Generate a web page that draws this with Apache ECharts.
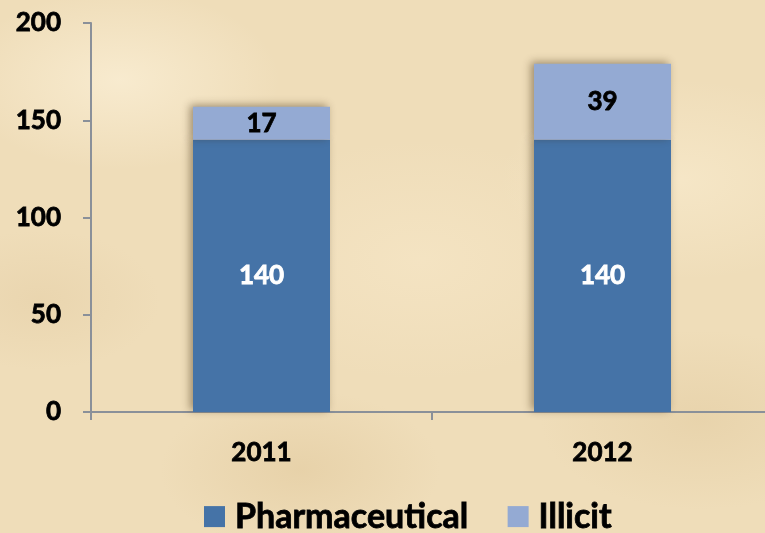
<!DOCTYPE html>
<html lang="en">

<head>
    <meta charset="UTF-8">
    <title>Pharmaceutical vs Illicit</title>
    <script src="https://cdn.jsdelivr.net/npm/echarts@6.0.0/dist/echarts.min.js"></script>
    <style>
        html, body { margin: 0; padding: 0; }
        body {
            width: 765px; height: 533px; overflow: hidden;
            background-color: #efddb9;
            background-image:
                radial-gradient(ellipse 160px 90px at 120px 80px, rgba(250,238,212,0.8), rgba(250,238,212,0)),
                radial-gradient(ellipse 200px 120px at 420px 260px, rgba(246,230,198,0.7), rgba(246,230,198,0)),
                radial-gradient(ellipse 180px 100px at 680px 180px, rgba(248,234,204,0.7), rgba(248,234,204,0)),
                radial-gradient(ellipse 140px 80px at 300px 470px, rgba(222,196,150,0.45), rgba(222,196,150,0)),
                radial-gradient(ellipse 160px 90px at 700px 420px, rgba(224,200,156,0.45), rgba(224,200,156,0)),
                radial-gradient(ellipse 120px 70px at 40px 300px, rgba(226,202,160,0.4), rgba(226,202,160,0));
        }
    </style>
</head>

<body>
    <!-- plot runs a little past the right edge, as in the original slide -->
    <div id="main" style="width: 773px; height: 533px;"></div>
    <script>
        var years = ['2011', '2012'];
        var pharmaceutical = [140, 140];
        var illicit = [17, 39];
        var yTicks = [0, 50, 100, 150, 200];

        var mychart = echarts.init(document.getElementById('main'));

        var font = 'Lato, "DejaVu Sans", sans-serif';
        var boldText = function (size, color) {
            return {
                fontSize: size,
                fontWeight: 'bold',
                fontFamily: font,
                color: color,
                textBorderColor: color,
                textBorderWidth: 0.8
            };
        };
        var barShadow = {
            shadowBlur: 8,
            shadowColor: 'rgba(60,40,10,0.45)',
            shadowOffsetX: -3,
            shadowOffsetY: -2
        };

        var option = {
            backgroundColor: 'transparent',
            animation: false,
            textStyle: { fontFamily: font },
            grid: {
                left: 91,
                right: 0,
                top: 23,
                bottom: 121
            },
            legend: {
                bottom: -6,
                left: 199,
                icon: 'rect',
                itemWidth: 21,
                itemHeight: 21,
                itemGap: 39,
                textStyle: Object.assign({ padding: [0, 0, 0, 5] }, boldText(34, '#000')),
                data: ['Pharmaceutical', 'Illicit']
            },
            xAxis: {
                type: 'category',
                data: years,
                axisLine: { lineStyle: { color: '#8a9099', width: 2 } },
                axisTick: { show: true, length: 8, lineStyle: { color: '#8a9099', width: 2 } },
                axisLabel: Object.assign({ margin: 28 }, boldText(26, '#000')),
                splitLine: { show: false }
            },
            yAxis: {
                type: 'value',
                min: yTicks[0],
                max: yTicks[yTicks.length - 1],
                interval: 50,
                axisLine: { show: true, lineStyle: { color: '#8a9099', width: 2 } },
                axisTick: { show: true, length: 8, lineStyle: { color: '#8a9099', width: 2 } },
                axisLabel: Object.assign({ margin: 30 }, boldText(26, '#000')),
                splitLine: { show: false }
            },
            series: [
                {
                    name: 'Pharmaceutical',
                    type: 'bar',
                    stack: 'total',
                    barWidth: 137,
                    data: pharmaceutical,
                    itemStyle: Object.assign({ color: '#4573a7' }, barShadow),
                    label: Object.assign({ show: true, position: 'inside' }, boldText(26, '#fff'))
                },
                {
                    name: 'Illicit',
                    type: 'bar',
                    stack: 'total',
                    barWidth: 137,
                    data: illicit,
                    itemStyle: Object.assign({ color: '#94aad3' }, barShadow),
                    label: Object.assign({ show: true, position: 'inside' }, boldText(26, '#000'))
                }
            ]
        };
        mychart.setOption(option);
    </script>
</body>

</html>
